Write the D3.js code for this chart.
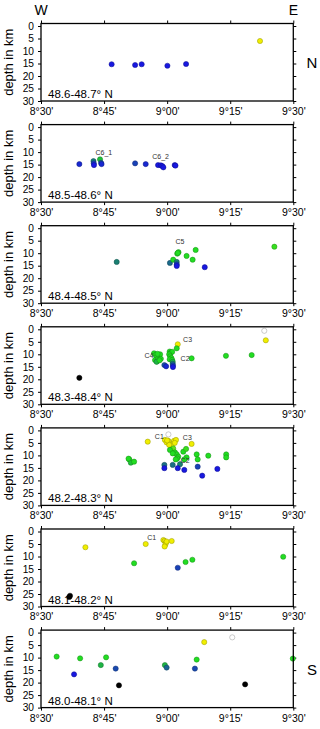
<!DOCTYPE html>
<html>
<head>
<meta charset="utf-8">
<script src="https://cdn.jsdelivr.net/npm/d3@7"></script>
<style>
  body { margin: 0; background: #fff; }
  svg { display: block; font-family: "Liberation Sans", Arial, sans-serif; }
</style>
</head>
<body>
<div class="display"></div>
<script>
// latitude bands, north to south
var bands = ["48.6-48.7° N", "48.5-48.6° N", "48.4-48.5° N", "48.3-48.4° N",
             "48.2-48.3° N", "48.1-48.2° N", "48.0-48.1° N"];

var lonTicks = [8.5, 8.75, 9.0, 9.25, 9.5];
var lonTickLabels = ["8°30'", "8°45'", "9°00'", "9°15'", "9°30'"];
var depthTicks = [0, 5, 10, 15, 20, 25, 30];

// events per band: [longitude (deg), depth (km)]
var quakes487 = [[8.780,15.3],[8.873,15.6],[8.899,15.3],[9.001,15.9],[9.075,15.2],[9.368,6.0]];

var quakes486 = [[8.652,14.8],[8.708,13.6],[8.709,14.5],[8.710,15.2],[8.734,12.9],[8.738,14.3],
  [8.740,14.8],[8.873,14.5],[8.915,14.8],[8.964,15.2],[8.975,15.3],[8.981,15.6],[8.985,16.1],
  [9.030,15.2],[9.033,15.4]];

var quakes485 = [[8.800,13.5],[9.011,13.9],[9.024,12.6],[9.040,10.2],[9.045,9.6],[9.042,9.9],
  [9.038,13.5],[9.038,14.5],[9.038,15.1],[9.077,11.1],[9.101,12.6],[9.113,8.7],[9.149,15.6],
  [9.425,7.4]];

var quakes484 = [[9.385,0.6],[9.391,4.4],[8.652,19.4],[9.233,10.6],[9.335,10.3],[9.042,6.0],
  [9.038,7.6],[9.097,11.6],
  [8.948,9.6],[8.955,10.2],[8.958,11.0],[8.952,12.3],[8.960,12.8],[8.965,11.5],[8.968,10.5],
  [8.972,10.0],[8.975,11.8],[8.962,9.8],[8.958,13.0],[8.970,12.4],
  [9.010,8.9],[9.014,9.4],[9.020,9.0],[9.008,10.0],[9.012,10.8],[9.017,11.5],[9.010,12.0],
  [9.020,12.3],[9.022,13.0],[9.022,13.8],[9.023,14.5],[9.023,15.1],
  [8.989,14.3],[8.996,14.8]];

var quakes483 = [[9.005,1.6],[8.923,4.5],[8.991,3.8],[8.998,4.8],[9.011,5.2],[9.027,4.2],
  [9.035,3.8],[9.018,6.1],[9.097,5.4],[9.005,4.2],[9.008,5.8],[9.030,5.0],[9.000,4.0],
  [9.018,7.8],[9.024,7.2],[9.031,8.8],[9.038,9.6],[9.044,10.5],[9.040,11.2],[9.011,7.8],
  [9.022,9.2],[9.064,8.5],[9.075,7.4],[9.077,10.8],[9.068,11.6],[9.034,11.6],[9.117,9.6],
  [9.121,11.6],[9.163,10.1],[9.234,9.6],[9.234,10.8],
  [8.850,11.6],[8.856,12.9],[8.869,12.5],[8.847,11.3],
  [8.989,13.8],[9.022,13.8],[9.051,13.5],
  [8.989,15.1],[9.042,15.1],[9.068,15.8],[9.121,14.5],[9.139,18.1],[9.199,15.4]];

var quakes482 = [[8.676,6.3],[8.915,5.0],[8.985,3.4],[8.990,3.8],[8.995,4.5],[8.993,5.2],
  [8.990,6.0],[8.998,4.0],[9.018,3.8],[8.869,12.7],[9.073,12.2],[9.100,11.3],[9.460,10.1],
  [9.042,14.5],[8.615,25.7],[8.612,26.2]];

var quakes481 = [[8.562,9.6],[8.655,10.3],[8.737,13.0],[8.758,9.9],[8.631,16.7],[8.796,14.4],
  [8.809,21.1],[8.991,13.0],[8.998,14.0],[9.117,10.8],[9.110,14.4],[9.147,3.8],[9.258,1.9],
  [9.309,20.7],[9.498,10.4]];

var quakesByBand = [quakes487, quakes486, quakes485, quakes484, quakes483, quakes482, quakes481];

// cluster names: [band index, name, longitude, depth]
var clusterNames = [[1,"C6_1",8.749,10.5],[1,"C6_2",8.974,12.2],[2,"C5",9.051,5.6],
  [3,"C3",9.081,4.3],[3,"C4",8.928,10.6],[3,"C2",9.071,12.0],
  [4,"C1",8.969,2.8],[4,"C3",9.080,3.3],[4,"C2",9.071,12.5],[5,"C1",8.939,2.7]];

var plotLeft = 41, plotWidth = 252.3;
var firstTop = 23.5, panelStep = 101.1, panelHeight = 77.5;

var x = d3.scaleLinear().domain([8.5, 9.5]).range([plotLeft, plotLeft + plotWidth]);
var y = d3.scaleLinear().domain([-1, 30]).range([0, panelHeight]);

var depthColor = d3.scaleLinear()
  .domain([2, 3, 6.5, 7.5, 12.7, 13.3, 14.2, 15, 18.5, 19])
  .range(["#ffffff","#f0ee00","#f0ee00","#22dd22","#22dd22","#1a8a66","#1a5a9e","#1818e0","#1818e0","#000000"])
  .clamp(true);

var svg = d3.select(".display")
  .append("svg")
  .attr("width", 320)
  .attr("height", 729);

var panel = svg.selectAll("g.panel")
  .data(bands)
  .enter().append("g")
  .attr("class", "panel")
  .attr("transform", function(d, i) { return "translate(0," + (firstTop + i * panelStep) + ")"; });

panel.each(function(band, i) {
  var g = d3.select(this);

  var bottomAxis = d3.axisBottom(x).tickValues(lonTicks)
    .tickFormat(function(d, k) { return lonTickLabels[k]; })
    .tickSize(3).tickPadding(3.5);
  g.append("g").attr("transform", "translate(0," + panelHeight + ")").call(bottomAxis);

  g.append("g").call(d3.axisTop(x).tickValues(lonTicks).tickSize(3).tickFormat(""));

  var leftAxis = d3.axisLeft(y).tickValues(depthTicks).tickSize(3).tickPadding(4);
  g.append("g").attr("class", "yaxis").attr("transform", "translate(" + plotLeft + ",0)").call(leftAxis);

  g.append("g").attr("transform", "translate(" + (plotLeft + plotWidth) + ",0)")
    .call(d3.axisRight(y).tickValues(depthTicks).tickSize(3).tickFormat(""));

  g.selectAll(".domain").remove();
  g.selectAll(".tick text").attr("font-size", 10.5).attr("fill", "#000")
    .attr("font-family", "Liberation Sans, Arial, sans-serif");
  g.selectAll(".yaxis .tick text").attr("font-size", 10.2);
  g.selectAll(".tick line").attr("stroke", "#000");

  g.append("text")
    .attr("transform", "translate(13," + (panelHeight / 2) + ") rotate(-90)")
    .attr("text-anchor", "middle")
    .attr("font-size", 13)
    .text("depth in km");

  g.selectAll("circle")
    .data(quakesByBand[i])
    .enter().append("circle")
    .attr("cx", function(d) { return x(d[0]); })
    .attr("cy", function(d) { return y(d[1]); })
    .attr("r", 2.6)
    .attr("fill", function(d) { return depthColor(d[1]); })
    .attr("stroke", function(d) { return d[1] < 2.5 ? "#999" : d3.color(depthColor(d[1])).darker(1.3); })
    .attr("stroke-width", 0.5);

  g.selectAll("text.cluster")
    .data(clusterNames.filter(function(c) { return c[0] === i; }))
    .enter().append("text")
    .attr("class", "cluster")
    .attr("x", function(c) { return x(c[2]); })
    .attr("y", function(c) { return y(c[3]); })
    .attr("text-anchor", "middle")
    .attr("dominant-baseline", "middle")
    .attr("font-size", 7)
    .attr("fill", "#333")
    .text(function(c) { return c[1]; });

  g.append("text")
    .attr("x", 48)
    .attr("y", panelHeight - 3)
    .attr("font-size", 11.5)
    .text(band);

  g.append("rect")
    .attr("x", plotLeft)
    .attr("width", plotWidth)
    .attr("height", panelHeight)
    .attr("fill", "none")
    .attr("stroke", "#000")
    .attr("stroke-width", 1.3);
});

svg.append("text").attr("x", x(8.5)).attr("y", 15).attr("text-anchor", "middle")
  .attr("font-size", 14).text("W");
svg.append("text").attr("x", x(9.5)).attr("y", 15).attr("text-anchor", "middle")
  .attr("font-size", 14).text("E");
svg.append("text").attr("x", 312).attr("y", firstTop + panelHeight / 2 + 6)
  .attr("text-anchor", "middle").attr("font-size", 15).text("N");
svg.append("text").attr("x", 312).attr("y", firstTop + 6 * panelStep + panelHeight / 2 + 6)
  .attr("text-anchor", "middle").attr("font-size", 15).text("S");
</script>
</body>
</html>
